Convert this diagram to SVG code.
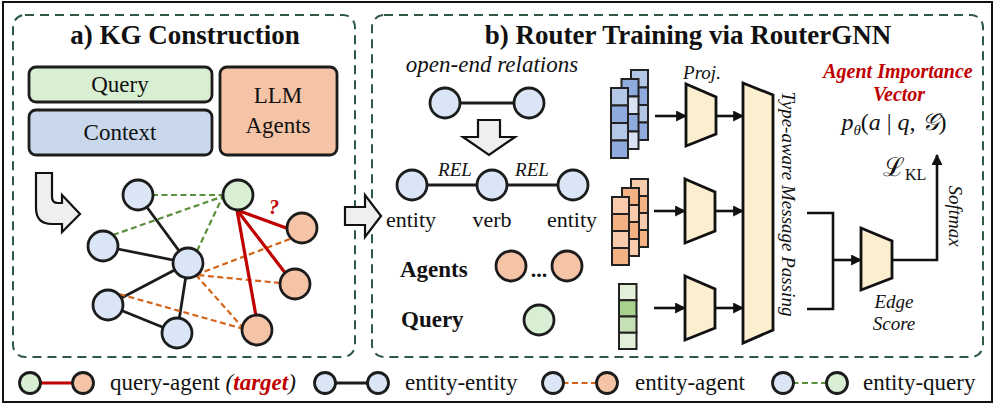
<svg xmlns="http://www.w3.org/2000/svg" width="997" height="409" viewBox="0 0 997 409">
<defs>
<marker id="ah" viewBox="0 0 10 10" refX="9" refY="5" markerWidth="11" markerHeight="11" markerUnits="userSpaceOnUse" orient="auto">
<path d="M0,0 L10,5 L0,10 z" fill="#111"/>
</marker>
<style>
.t{font-family:"Liberation Serif","Times New Roman",serif;fill:#111}
.i{font-style:italic}
.b{font-weight:bold}
.nd{stroke:#1c1c1c;stroke-width:2.8}
.bl{fill:#dae6f6}.gr{fill:#d9efd3}.or{fill:#f5c4a6}
.box{stroke:#1c1c1c;stroke-width:2.8}
.e{stroke:#1c1c1c;stroke-width:2.8;fill:none}
.gd{stroke:#5b8f3b;stroke-width:2.2;stroke-dasharray:6,3.5}
.od{stroke:#d4661c;stroke-width:2.2;stroke-dasharray:6,3.5}
.rd{stroke:#c00000;stroke-width:3.2}
.panel{fill:none;stroke:#2e5a44;stroke-width:2;stroke-dasharray:9,6}
.trap{fill:#fcefcf;stroke:#111;stroke-width:2.8;stroke-linejoin:miter}
.cell{stroke:#222;stroke-width:2}
.arr{fill:#efefef;stroke:#111;stroke-width:2.2;stroke-linejoin:miter}
.w{stroke:#111;stroke-width:2.6;fill:none}
.red{fill:#c00000}
</style>
</defs>
<rect x="3" y="2" width="989" height="400" fill="#fff" stroke="#111" stroke-width="2"/>

<!-- panels -->
<g id="panel-a">
<rect class="panel" x="13" y="15" width="342" height="342" rx="12"/>
<text class="t b" x="185" y="44" font-size="27" text-anchor="middle">a) KG Construction</text>
</g>
<g id="panel-b">
<rect class="panel" x="372" y="15" width="611" height="342" rx="12"/>
<text class="t b" x="688" y="44" font-size="27" text-anchor="middle">b) Router Training via RouterGNN</text>
</g>

<!-- panel a boxes -->
<g id="box-query"><rect class="box gr" x="29" y="67" width="183" height="35" rx="7"/><text class="t" x="120" y="92" font-size="23" text-anchor="middle">Query</text></g>
<g id="box-context"><rect class="box" fill="#c9d8ec" x="29" y="110" width="183" height="45" rx="7"/><text class="t" x="120" y="140" font-size="23" text-anchor="middle">Context</text></g>
<g id="box-llm"><rect class="box or" x="220" y="67" width="117" height="88" rx="7"/><text class="t" x="278" y="103" font-size="23" text-anchor="middle">LLM</text><text class="t" x="278" y="133" font-size="23" text-anchor="middle">Agents</text></g>
<g id="arrow-bend"><path class="arr" d="M36,173 H52 V197 Q52,203 58,203 H62 V195 L80,214 L62,232 V224 H52 Q36,224 36,208 Z"/></g>

<!-- connectors -->
<g id="connectors">
<line class="e" x1="138" y1="195" x2="188" y2="263"/>
<line class="e" x1="103" y1="246" x2="188" y2="263"/>
<line class="e" x1="188" y1="263" x2="108" y2="305"/>
<line class="e" x1="188" y1="263" x2="177" y2="333"/>
<line class="e" x1="108" y1="305" x2="177" y2="333"/>
<line class="gd" x1="152" y1="195" x2="224" y2="195"/>
<line class="gd" x1="113" y1="235" x2="224" y2="196"/>
<line class="gd" x1="197" y1="251" x2="222" y2="198"/>
<line class="od" x1="290" y1="239" x2="198" y2="274"/>
<line class="od" x1="280" y1="283" x2="197" y2="275"/>
<line class="od" x1="244" y1="329" x2="196" y2="275"/>
<line class="od" x1="244" y1="329" x2="119" y2="294"/>
<line class="rd" x1="237" y1="210" x2="289" y2="229"/>
<line class="rd" x1="237" y1="210" x2="286" y2="274"/>
<line class="rd" x1="237" y1="210" x2="256" y2="316"/>
<line class="e" x1="445" y1="103" x2="529" y2="103"/>
<line class="e" x1="412" y1="185" x2="573" y2="185"/>
<line class="w" x1="655" y1="116" x2="686" y2="116" marker-end="url(#ah)"/>
<line class="w" x1="716" y1="116" x2="743" y2="116" marker-end="url(#ah)"/>
<line class="w" x1="654" y1="211" x2="685" y2="211" marker-end="url(#ah)"/>
<line class="w" x1="715" y1="211" x2="743" y2="211" marker-end="url(#ah)"/>
<line class="w" x1="654" y1="308" x2="685" y2="308" marker-end="url(#ah)"/>
<line class="w" x1="715" y1="308" x2="743" y2="308" marker-end="url(#ah)"/>
<polyline class="w" points="807,213 833,213 833,309 807,309"/>
<line class="w" x1="833" y1="260" x2="861" y2="260" marker-end="url(#ah)"/>
<polyline class="w" points="892,260 937,260 937,155" marker-end="url(#ah)"/>
</g>

<!-- panel a graph nodes -->
<g id="kg-e1"><circle class="nd bl" cx="138" cy="195" r="15"/></g>
<g id="kg-e2"><circle class="nd bl" cx="103" cy="246" r="15"/></g>
<g id="kg-e3"><circle class="nd bl" cx="188" cy="263" r="15"/></g>
<g id="kg-e4"><circle class="nd bl" cx="108" cy="305" r="15"/></g>
<g id="kg-e5"><circle class="nd bl" cx="177" cy="333" r="15"/></g>
<g id="kg-q"><circle class="nd gr" cx="238" cy="195" r="15"/></g>
<g id="kg-a1"><circle class="nd or" cx="302" cy="228" r="15"/></g>
<g id="kg-a2"><circle class="nd or" cx="295" cy="284" r="15"/></g>
<g id="kg-a3"><circle class="nd or" cx="257" cy="330" r="15"/></g>
<text class="t b i" x="274" y="214" font-size="20" text-anchor="middle" fill="#c00000" style="fill:#c00000">?</text>

<!-- between-panel arrow -->
<g id="arrow-ab"><path class="arr" d="M345,207 H365 V195 L381,216 L365,237 V225 H345 Z"/></g>

<!-- panel b left -->
<text class="t i" x="492" y="72" font-size="23" text-anchor="middle">open-end relations</text>
<g id="rel-n1"><circle class="nd bl" cx="445" cy="103" r="15"/></g>
<g id="rel-n2"><circle class="nd bl" cx="529" cy="103" r="15"/></g>
<g id="arrow-down"><path class="arr" d="M478,120 H500 V137 H515 L489,155 L463,137 H478 Z"/></g>
<g id="chain-entity1"><circle class="nd bl" cx="412" cy="185" r="15"/><text class="t" x="411" y="227" font-size="22" text-anchor="middle">entity</text></g>
<g id="chain-verb"><circle class="nd bl" cx="492" cy="185" r="15"/><text class="t" x="492" y="227" font-size="22" text-anchor="middle">verb</text></g>
<g id="chain-entity2"><circle class="nd bl" cx="573" cy="185" r="15"/><text class="t" x="572" y="227" font-size="22" text-anchor="middle">entity</text></g>
<text class="t i" x="455" y="176" font-size="19" text-anchor="middle">REL</text>
<text class="t i" x="532" y="176" font-size="19" text-anchor="middle">REL</text>
<g id="agents"><text class="t b" x="400" y="277" font-size="23">Agents</text>
<circle class="nd or" cx="511" cy="266" r="15"/><circle class="nd or" cx="567" cy="266" r="15"/>
<text class="t b" x="539" y="277" font-size="22" text-anchor="middle">...</text></g>
<g id="query"><text class="t b" x="401" y="327" font-size="23">Query</text><circle class="nd gr" cx="539" cy="320" r="15"/></g>

<!-- feature stacks -->
<g id="stack-entity">
<rect class="cell" x="631" y="70" width="17" height="17.5" fill="#b4c7e7"/><rect class="cell" x="631" y="87.5" width="17" height="17.5" fill="#8faadc"/><rect class="cell" x="631" y="105" width="17" height="17.5" fill="#b4c7e7"/><rect class="cell" x="631" y="122.5" width="17" height="17.5" fill="#8faadc"/>
<rect class="cell" x="621.5" y="79" width="17" height="17.5" fill="#8faadc"/><rect class="cell" x="621.5" y="96.5" width="17" height="17.5" fill="#dae3f3"/><rect class="cell" x="621.5" y="114" width="17" height="17.5" fill="#8faadc"/><rect class="cell" x="621.5" y="131.5" width="17" height="17.5" fill="#dae3f3"/>
<rect class="cell" x="611" y="88" width="17" height="17.5" fill="#b4c7e7"/><rect class="cell" x="611" y="105.5" width="17" height="17.5" fill="#8faadc"/><rect class="cell" x="611" y="123" width="17" height="17.5" fill="#b4c7e7"/><rect class="cell" x="611" y="140.5" width="17" height="17.5" fill="#8faadc"/>
</g>
<g id="stack-agent">
<rect class="cell" x="631" y="179" width="17" height="17" fill="#f8cbad"/><rect class="cell" x="631" y="196" width="17" height="17" fill="#f4b183"/><rect class="cell" x="631" y="213" width="17" height="17" fill="#f8cbad"/><rect class="cell" x="631" y="230" width="17" height="17" fill="#f4b183"/>
<rect class="cell" x="622" y="188" width="17" height="17" fill="#f4b183"/><rect class="cell" x="622" y="205" width="17" height="17" fill="#f8cbad"/><rect class="cell" x="622" y="222" width="17" height="17" fill="#f4b183"/><rect class="cell" x="622" y="239" width="17" height="17" fill="#f8cbad"/>
<rect class="cell" x="612" y="197" width="17" height="17" fill="#f8cbad"/><rect class="cell" x="612" y="214" width="17" height="17" fill="#f4b183"/><rect class="cell" x="612" y="231" width="17" height="17" fill="#f8cbad"/><rect class="cell" x="612" y="248" width="17" height="17" fill="#f4b183"/>
</g>
<g id="stack-query">
<rect class="cell" x="619" y="284" width="17.5" height="16.25" fill="#e2f0d9"/><rect class="cell" x="619" y="300.25" width="17.5" height="16.25" fill="#a9d18e"/><rect class="cell" x="619" y="316.5" width="17.5" height="16.25" fill="#c5e0b4"/><rect class="cell" x="619" y="332.75" width="17.5" height="16.25" fill="#e2f0d9"/>
</g>

<!-- projections -->
<text class="t i" x="702" y="79" font-size="19" text-anchor="middle">Proj.</text>
<g id="proj-entity"><polygon class="trap" points="686,84 716,97 716,134 686,146"/></g>
<g id="proj-agent"><polygon class="trap" points="685,179 715,192 715,231 685,243"/></g>
<g id="proj-query"><polygon class="trap" points="685,276 715,289 715,328 685,340"/></g>
<g id="message-passing"><polygon class="trap" points="743,83 773,95 773,330 743,343"/>
<text class="t i" font-size="19" text-anchor="middle" transform="translate(782,204) rotate(90)">Type-aware Message Passing</text></g>
<g id="edge-score"><polygon class="trap" points="861,228 892,241 892,278 861,290"/>
<text class="t i" x="894" y="308" font-size="19" text-anchor="middle">Edge</text>
<text class="t i" x="894" y="330" font-size="19" text-anchor="middle">Score</text></g>
<text class="t i" font-size="19" text-anchor="middle" transform="translate(949,216) rotate(90)">Softmax</text>

<g id="output">
<text class="t b i red" x="898" y="78" font-size="20" text-anchor="middle" style="fill:#c00000">Agent Importance</text>
<text class="t b i red" x="899" y="101" font-size="20" text-anchor="middle" style="fill:#c00000">Vector</text>
<text class="t" x="894" y="130" font-size="24" text-anchor="middle"><tspan class="i">p</tspan><tspan class="i" font-size="15" dy="5">θ</tspan><tspan dy="-5">(</tspan><tspan class="i">a</tspan> | <tspan class="i">q</tspan>, <tspan font-family="DejaVu Serif" class="i">𝒢</tspan>)</text>
<text class="t" x="883" y="176" font-size="26"><tspan font-family="DejaVu Serif">ℒ</tspan><tspan font-size="16" dy="4">KL</tspan></text>
</g>

<!-- legend -->
<g id="legend">
<line class="rd" x1="30" y1="383" x2="83" y2="383" stroke-width="2.4"/>
<circle class="nd gr" cx="30" cy="383" r="10.5"/><circle class="nd or" cx="83" cy="383" r="10.5"/>
<text class="t" x="110" y="390" font-size="23">query-agent <tspan class="i">(</tspan><tspan class="i b" style="fill:#c00000">target</tspan><tspan class="i">)</tspan></text>
<line class="e" x1="325" y1="383" x2="378" y2="383"/>
<circle class="nd bl" cx="325" cy="383" r="10.5"/><circle class="nd bl" cx="378" cy="383" r="10.5"/>
<text class="t" x="405" y="390" font-size="23">entity-entity</text>
<line class="od" x1="553" y1="383" x2="607" y2="383" stroke-dasharray="4,2.5"/>
<circle class="nd bl" cx="553" cy="383" r="10.5"/><circle class="nd or" cx="607" cy="383" r="10.5"/>
<text class="t" x="635" y="390" font-size="23">entity-agent</text>
<line class="gd" x1="783" y1="383" x2="837" y2="383" stroke-dasharray="4,2.5"/>
<circle class="nd bl" cx="783" cy="383" r="10.5"/><circle class="nd gr" cx="837" cy="383" r="10.5"/>
<text class="t" x="863" y="390" font-size="23">entity-query</text>
</g>
</svg>
